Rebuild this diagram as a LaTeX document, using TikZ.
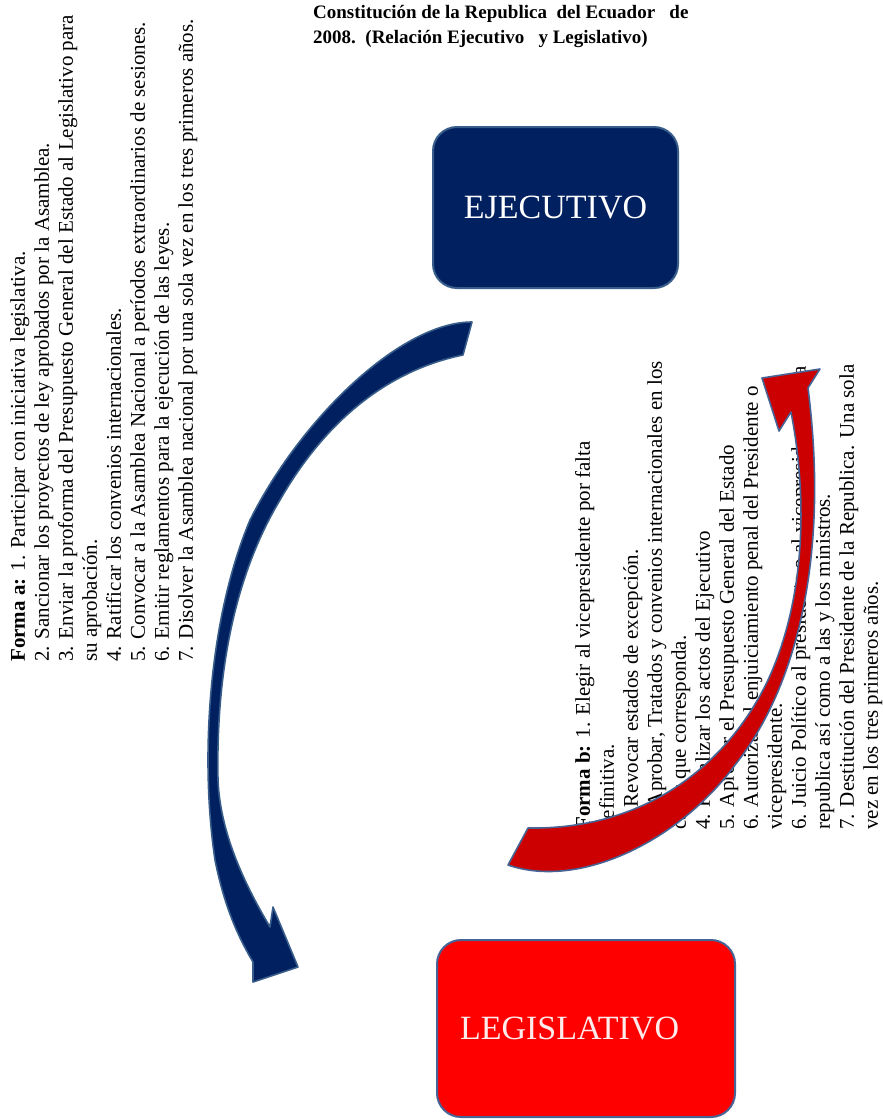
\documentclass[tikz,border=0pt]{standalone}
\usepackage{fontspec}
\setmainfont{Liberation Serif}
\usepackage{xcolor}
\usetikzlibrary{positioning}

\definecolor{azul}{RGB}{0,32,96}
\definecolor{bordeazul}{RGB}{56,93,138}
\definecolor{rojo}{RGB}{255,0,0}
\definecolor{rojoflecha}{RGB}{204,0,0}
\definecolor{bordegris}{RGB}{70,100,150}

\begin{document}
\begin{tikzpicture}[x=1pt,y=-1pt,
    caja/.style={rounded corners=24pt, line width=2pt, inner sep=0pt},
    lista/.style={rotate=90, anchor=north west, inner sep=0pt, align=left, font=\fontsize{21}{24}\selectfont},
    flecha/.style={line width=1.6pt, line join=round}]

    \useasboundingbox (0,0) rectangle (883,1120);

    %===========================
    % Titulo
    %===========================
    \node (titulo) at (313,5) [anchor=north west, inner sep=0pt, align=left, font=\bfseries\fontsize{19}{25}\selectfont]
        {Constitución de la Republica\ \ del Ecuador\ \ \ de\\ 2008.\ \ (Relación Ejecutivo\ \ \ y Legislativo)};

    %===========================
    % Listas
    %===========================
    \node (formaA) at (10,662) [lista] {%
        \textbf{Forma a:} 1. Participar con iniciativa legislativa.\\
        2. Sancionar los proyectos de ley aprobados por la Asamblea.\\
        3. Enviar la proforma del Presupuesto General del Estado al Legislativo para\\
        su aprobación.\\
        4. Ratificar los convenios internacionales.\\
        5. Convocar a la Asamblea Nacional a períodos extraordinarios de sesiones.\\
        6. Emitir reglamentos para la ejecución de las leyes.\\
        7. Disolver la Asamblea nacional por una sola vez en los tres primeros años.};

    \node (formaB) at (575,830) [lista] {%
        \textbf{Forma b:} 1. Elegir al vicepresidente por falta\\
        definitiva.\\
        2. Revocar estados de excepción.\\
        3. Aprobar, Tratados y convenios internacionales en los\\
        casos que corresponda.\\
        4. Fiscalizar los actos del Ejecutivo\\
        5. Aprobar el Presupuesto General del Estado\\
        6. Autorizar el enjuiciamiento penal del Presidente o\\
        vicepresidente.\\
        6. Juicio Político al presidente o al vicepresidente de la\\
        republica así como a las y los ministros.\\
        7. Destitución del Presidente de la Republica. Una sola\\
        vez en los tres primeros años.};

    %===========================
    % Poderes
    %===========================
    \node (ejec) at (555.5,207.5) [caja, fill=azul, draw=bordeazul, minimum width=245pt, minimum height=161pt,
        text=white, font=\fontsize{34}{40}\selectfont] {EJECUTIVO};

    \node (legis) at (586,1028.5) [caja, fill=rojo, draw=bordegris, minimum height=177pt, inner xsep=23pt,
        text width=252pt, align=left, text=white!92!red, font=\fontsize{34}{40}\selectfont] {LEGISLATIVO};

    %===========================
    % Flechas
    %===========================
    % Ejecutivo -> Legislativo
    \filldraw[flecha, fill=azul, draw=bordeazul]
        (472,322) .. controls (400,322) and (300,420) .. (250,520)
        .. controls (208,620) and (200,760) .. (215,860)
        .. controls (225,910) and (240,940) .. (253,962)
        -- (253,982) -- (298,967) -- (273,907) -- (270,927)
        .. controls (242,880) and (220,830) .. (218,780)
        .. controls (216,680) and (232,580) .. (280,500)
        .. controls (320,430) and (380,372) .. (463,355) -- cycle;

    % Legislativo -> Ejecutivo
    \filldraw[flecha, fill=rojoflecha, draw=bordegris]
        (508,865) .. controls (580,890) and (680,840) .. (735,765)
        .. controls (795,690) and (830,560) .. (808,388)
        -- (820,369) -- (762,378) -- (779,431) -- (791,412)
        .. controls (808,500) and (805,600) .. (768,680)
        .. controls (730,760) and (650,830) .. (528,828) -- cycle;

\end{tikzpicture}
\end{document}
